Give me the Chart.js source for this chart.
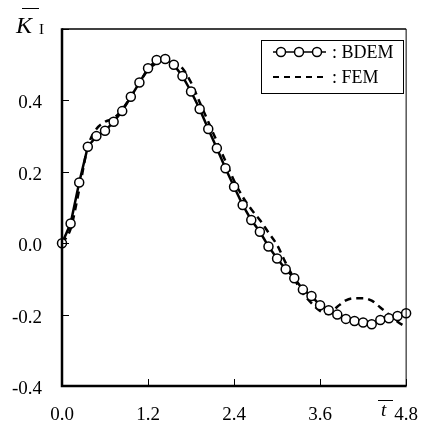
<!DOCTYPE html>
<html>
<head>
<meta charset="utf-8">
<script src="https://cdn.jsdelivr.net/npm/chart.js@4.4.0/dist/chart.umd.min.js"></script>
<style>
  html, body { margin: 0; padding: 0; background: #fff; }
  #wrap { width: 428px; height: 429px; }
</style>
</head>
<body>
<div id="wrap"><canvas id="chart" width="428" height="429"></canvas></div>
<script>
// time values (t bar)
const tValues = [0.00, 0.12, 0.24, 0.36, 0.48, 0.60, 0.72, 0.84, 0.96, 1.08,
                 1.20, 1.32, 1.44, 1.56, 1.68, 1.80, 1.92, 2.04, 2.16, 2.28,
                 2.40, 2.52, 2.64, 2.76, 2.88, 3.00, 3.12, 3.24, 3.36, 3.48,
                 3.60, 3.72, 3.84, 3.96, 4.08, 4.20, 4.32, 4.44, 4.56, 4.68, 4.80];

// BDEM (circles)
const bdemValues = [0.000, 0.055, 0.170, 0.270, 0.300, 0.315, 0.340, 0.370, 0.410, 0.450,
                    0.490, 0.513, 0.516, 0.500, 0.468, 0.425, 0.376, 0.320, 0.266, 0.210,
                    0.158, 0.107, 0.065, 0.032, -0.009, -0.043, -0.073, -0.098, -0.130, -0.148,
                    -0.174, -0.188, -0.200, -0.212, -0.218, -0.222, -0.227, -0.215, -0.210, -0.204, -0.196];

// FEM (dashed)
const femValues = [0.000, 0.040, 0.150, 0.270, 0.320, 0.340, 0.350, 0.375, 0.410, 0.450,
                   0.485, 0.505, 0.515, 0.508, 0.490, 0.450, 0.395, 0.340, 0.285, 0.230,
                   0.175, 0.130, 0.095, 0.065, 0.030, -0.005, -0.055, -0.100, -0.140, -0.168,
                   -0.190, -0.198, -0.178, -0.160, -0.154, -0.154, -0.161, -0.180, -0.200, -0.220, -0.235];

const xTickLabels = ['0.0', '1.2', '2.4', '3.6', '4.8'];
const yTickLabels = ['-0.4', '-0.2', '0.0', '0.2', '0.4', ''];

const serif = '"Liberation Serif", "DejaVu Serif", serif';

function toPoints(ys) {
    return tValues.map((t, i) => ({ x: t, y: ys[i] }));
}

// frame, inward ticks, axis symbols and legend box
const decorPlugin = {
    id: 'decor',
    afterDraw(chart) {
        const ctx = chart.ctx;
        const a = chart.chartArea;
        const xs = chart.scales.x, ys = chart.scales.y;
        ctx.save();
        ctx.strokeStyle = '#000';
        ctx.lineCap = 'butt';

        // frame
        ctx.lineWidth = 1.5;
        ctx.beginPath();
        ctx.moveTo(a.left, a.top); ctx.lineTo(a.right, a.top);
        ctx.stroke();
        ctx.lineWidth = 1;
        ctx.beginPath();
        ctx.moveTo(a.right, a.top); ctx.lineTo(a.right, a.bottom);
        ctx.stroke();
        ctx.lineWidth = 2.5;
        ctx.beginPath();
        ctx.moveTo(a.left, a.top - 0.7); ctx.lineTo(a.left, a.bottom);
        ctx.lineTo(a.right + 0.5, a.bottom);
        ctx.stroke();

        // inward ticks
        ctx.lineWidth = 1;
        ys.ticks.forEach(tk => {
            const py = Math.round(ys.getPixelForValue(tk.value)) + 0.5;
            ctx.beginPath(); ctx.moveTo(a.left, py); ctx.lineTo(a.left + 7, py); ctx.stroke();
        });
        xs.ticks.forEach(tk => {
            const px = Math.round(xs.getPixelForValue(tk.value)) + 0.5;
            ctx.beginPath(); ctx.moveTo(px, a.bottom); ctx.lineTo(px, a.bottom - 7); ctx.stroke();
        });

        // y symbol: K bar with subscript I
        ctx.fillStyle = '#000';
        ctx.textBaseline = 'alphabetic';
        ctx.textAlign = 'left';
        ctx.font = 'italic 24px ' + serif;
        ctx.fillText('K', 16, 33);
        ctx.font = '15px ' + serif;
        ctx.fillText('I', 39, 34);
        ctx.lineWidth = 1;
        ctx.beginPath(); ctx.moveTo(22, 8.5); ctx.lineTo(39, 8.5); ctx.stroke();

        // x symbol: t bar
        ctx.font = 'italic 19px ' + serif;
        ctx.fillText('t', 381, 416);
        ctx.beginPath(); ctx.moveTo(378, 400.5); ctx.lineTo(393, 400.5); ctx.stroke();

        // legend
        const bx = 261, by = 40, bw = 142, bh = 53;
        ctx.lineWidth = 1;
        ctx.strokeRect(bx + 0.5, by + 0.5, bw, bh);
        ctx.font = '18px ' + serif;
        ctx.textBaseline = 'middle';
        // BDEM sample
        ctx.lineWidth = 1.5;
        ctx.beginPath(); ctx.moveTo(273, 52); ctx.lineTo(326, 52); ctx.stroke();
        [281, 299, 317].forEach(cx => {
            ctx.beginPath();
            ctx.arc(cx, 52, 4.5, 0, Math.PI * 2);
            ctx.fillStyle = '#fff'; ctx.fill();
            ctx.stroke();
        });
        ctx.fillStyle = '#000';
        ctx.fillText(': BDEM', 332, 53);
        // FEM sample
        ctx.lineWidth = 2;
        ctx.setLineDash([6, 5]);
        ctx.beginPath(); ctx.moveTo(273, 77); ctx.lineTo(326, 77); ctx.stroke();
        ctx.setLineDash([]);
        ctx.fillText(': FEM', 332, 78);
        ctx.restore();
    }
};

new Chart(document.getElementById('chart').getContext('2d'), {
    type: 'line',
    data: {
        datasets: [
            {
                label: 'BDEM',
                data: toPoints(bdemValues),
                borderColor: '#000',
                borderWidth: 2.5,
                pointRadius: 4.5,
                pointBorderWidth: 1.5,
                pointBackgroundColor: '#fff',
                pointBorderColor: '#000',
                tension: 0,
                clip: false,
            },
            {
                label: 'FEM',
                data: toPoints(femValues),
                borderColor: '#000',
                borderWidth: 2.5,
                borderDash: [7, 5],
                pointRadius: 0,
                tension: 0.4,
                cubicInterpolationMode: 'monotone',
            }
        ]
    },
    options: {
        responsive: false,
        animation: false,
        layout: { padding: { top: 29, right: 13, left: 0, bottom: 0 } },
        plugins: {
            legend: { display: false },
            tooltip: { enabled: false },
        },
        scales: {
            x: {
                type: 'linear',
                min: 0,
                max: 4.8,
                grid: { display: false },
                border: { display: false },
                ticks: {
                    stepSize: 1.2,
                    color: '#000',
                    padding: 10,
                    maxRotation: 0,
                    font: { family: serif, size: 19 },
                    callback: (v, i) => xTickLabels[i],
                },
                afterFit: (scale) => { scale.height = 43; },
            },
            y: {
                min: -0.4,
                max: 0.6,
                grid: { display: false },
                border: { display: false },
                ticks: {
                    stepSize: 0.2,
                    color: '#000',
                    padding: 12,
                    labelOffset: 3,
                    font: { family: serif, size: 19 },
                    callback: (v, i) => yTickLabels[i],
                },
                afterFit: (scale) => { scale.width = 62; },
            }
        }
    },
    plugins: [decorPlugin]
});
</script>
</body>
</html>
